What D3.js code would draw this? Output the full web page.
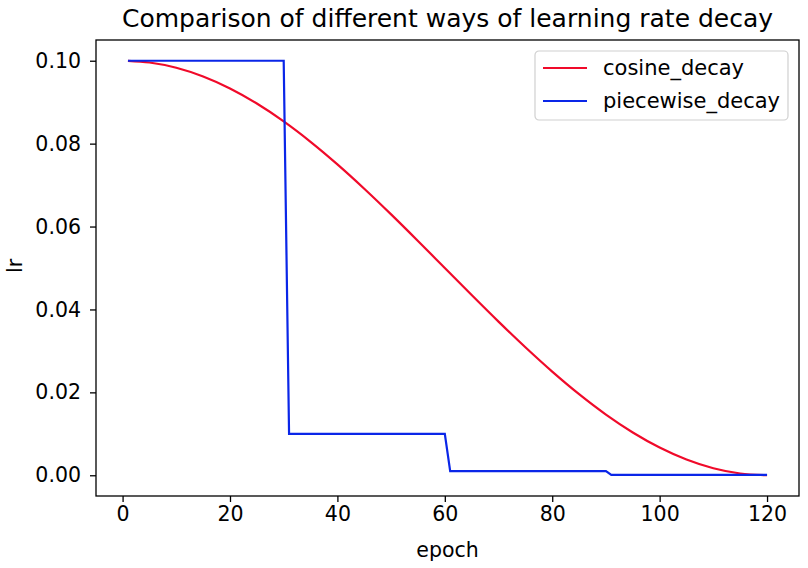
<!DOCTYPE html>
<html>
<head>
<meta charset="utf-8">
<script src="https://cdn.jsdelivr.net/npm/d3@7"></script>
<style>
  body { margin: 0; background: #fff; }
  text { font-family: "DejaVu Sans", sans-serif; fill: #000; }
</style>
</head>
<body>
<script>
// Values
var cosEpochs = [1, 5, 10, 15, 20, 25, 30, 35, 40, 45, 50, 55, 60, 65, 70, 75, 80, 85, 90, 95, 100, 105, 110, 115, 120];
var cosLr = [0.09998, 0.09957, 0.0983, 0.09619, 0.0933, 0.08967, 0.08536, 0.08044, 0.075, 0.06913, 0.06294, 0.05653, 0.05,
  0.04347, 0.03706, 0.03087, 0.025, 0.01956, 0.01464, 0.01033, 0.0067, 0.00381, 0.0017, 0.00043, 0.0];
var pwEpochs = [1, 30, 31, 60, 61, 90, 91, 120];
var pwLr = [0.1, 0.1, 0.01, 0.01, 0.001, 0.001, 0.0001, 0.0001];
var xTicks = [0, 20, 40, 60, 80, 100, 120];
var yTicks = [0.00, 0.02, 0.04, 0.06, 0.08, 0.10];
var seriesNames = ["cosine_decay", "piecewise_decay"];
var seriesColors = ["#f00a2a", "#0a26e8"];

var W = 808, H = 568;
var margin = { top: 40, right: 9, bottom: 72, left: 96 },
  width = W - margin.left - margin.right,
  height = H - margin.top - margin.bottom;

var svg = d3.select("body").append("svg")
  .attr("width", W).attr("height", H);
var g = svg.append("g")
  .attr("transform", "translate(" + margin.left + "," + margin.top + ")");

// matplotlib style 5% padding
var xRange = d3.scaleLinear().domain([1 - 5.95, 120 + 5.95]).range([0, width]);
var yRange = d3.scaleLinear().domain([-0.005, 0.105]).range([height, 0]);

var line = d3.line()
  .x(function (d) { return xRange(d[0]); })
  .y(function (d) { return yRange(d[1]); });

var cosData = cosEpochs.map(function (e, i) { return [e, cosLr[i]]; });
var pwData = pwEpochs.map(function (e, i) { return [e, pwLr[i]]; });

g.append("path").datum(cosData)
  .attr("d", line.curve(d3.curveMonotoneX))
  .attr("fill", "none").attr("stroke", seriesColors[0]).attr("stroke-width", 2.2);
g.append("path").datum(pwData)
  .attr("d", line.curve(d3.curveLinear))
  .attr("fill", "none").attr("stroke", seriesColors[1]).attr("stroke-width", 2.2);

// Axes
var xAxis = d3.axisBottom(xRange).tickValues(xTicks).tickSize(6).tickPadding(4)
  .tickFormat(d3.format("d"));
var yAxis = d3.axisLeft(yRange).tickValues(yTicks).tickSize(6).tickPadding(9)
  .tickFormat(d3.format(".2f"));

var gx = g.append("g").attr("transform", "translate(0," + height + ")").call(xAxis);
var gy = g.append("g").call(yAxis);
[gx, gy].forEach(function (a) {
  a.select(".domain").remove();
  a.selectAll("line").attr("stroke", "#000").attr("stroke-width", 1.3);
  a.selectAll("text").attr("font-size", 20.5).attr("font-family", "DejaVu Sans").attr("fill", "#000");
});

// Frame
g.append("rect").attr("width", width).attr("height", height)
  .attr("fill", "none").attr("stroke", "#000").attr("stroke-width", 1.3);

// Title and labels
svg.append("text").attr("x", margin.left + width / 2).attr("y", 27)
  .attr("text-anchor", "middle").attr("font-size", 25)
  .text("Comparison of different ways of learning rate decay");
svg.append("text").attr("x", margin.left + width / 2).attr("y", 557)
  .attr("text-anchor", "middle").attr("font-size", 20.5).text("epoch");
svg.append("text").attr("transform", "translate(22," + (margin.top + height / 2 - 2) + ") rotate(-90)")
  .attr("text-anchor", "middle").attr("font-size", 20.5).text("lr");

// Legend
var lg = svg.append("g").attr("transform", "translate(535,51)");
lg.append("rect").attr("width", 253).attr("height", 69).attr("rx", 4)
  .attr("fill", "#fff").attr("fill-opacity", 0.8).attr("stroke", "#d0d0d0").attr("stroke-width", 1.2);
seriesNames.forEach(function (name, i) {
  var y = 17 + i * 33;
  lg.append("line").attr("x1", 8).attr("x2", 52).attr("y1", y).attr("y2", y)
    .attr("stroke", seriesColors[i]).attr("stroke-width", 2.2);
  lg.append("text").attr("x", 68).attr("y", y + 7).attr("font-size", 21).text(name);
});
</script>
</body>
</html>
